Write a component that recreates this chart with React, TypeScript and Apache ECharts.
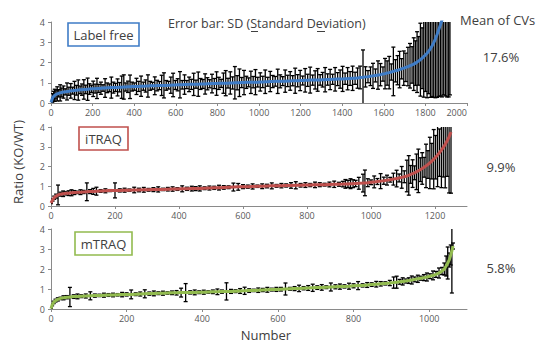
import { useEffect, useRef } from "react";
import * as echarts from "echarts";

// [rank, mean ratio, SD]
const LABEL_FREE: [number, number, number][] = [
  [0, 0.03, 0.05], [4, 0.15, 0.12], [8, 0.26, 0.2], [13, 0.33, 0.25], [18, 0.38, 0.3], [24, 0.42, 0.22],
  [30, 0.45, 0.35], [37, 0.48, 0.18], [44, 0.5, 0.4], [52, 0.52, 0.22], [60, 0.54, 0.3], [68, 0.55, 0.15],
  [77, 0.57, 0.42], [86, 0.58, 0.2], [95, 0.6, 0.36], [104, 0.61, 0.17], [113, 0.62, 0.45], [122, 0.63, 0.24],
  [131, 0.64, 0.5], [140, 0.65, 0.19], [149, 0.66, 0.28], [158, 0.67, 0.48], [167, 0.67, 0.21], [176, 0.68, 0.55],
  [185, 0.69, 0.26], [194, 0.7, 0.18], [203, 0.7, 0.38], [212, 0.71, 0.22], [221, 0.72, 0.5], [230, 0.72, 0.2],
  [240, 0.73, 0.3], [250, 0.74, 0.16], [260, 0.74, 0.46], [270, 0.75, 0.24], [280, 0.75, 0.19], [290, 0.76, 0.52],
  [300, 0.76, 0.27], [310, 0.77, 0.2], [320, 0.77, 0.42], [330, 0.78, 0.23], [340, 0.78, 0.55], [350, 0.79, 0.6],
  [360, 0.79, 0.2], [370, 0.8, 0.28], [380, 0.8, 0.58], [390, 0.81, 0.22], [400, 0.81, 0.18], [411, 0.82, 0.4],
  [422, 0.82, 0.25], [433, 0.83, 0.5], [444, 0.83, 0.2], [455, 0.84, 0.3], [466, 0.84, 0.55], [477, 0.85, 0.22],
  [488, 0.85, 0.17], [499, 0.85, 0.44], [510, 0.86, 0.26], [521, 0.86, 0.2], [532, 0.87, 0.5], [543, 0.87, 0.62],
  [554, 0.87, 0.24], [565, 0.88, 0.19], [576, 0.88, 0.4], [587, 0.89, 0.58], [598, 0.89, 0.22], [609, 0.9, 0.3],
  [620, 0.9, 0.65], [631, 0.9, 0.21], [642, 0.91, 0.48], [653, 0.91, 0.2], [664, 0.92, 0.36], [675, 0.92, 0.25],
  [686, 0.92, 0.55], [697, 0.93, 0.2], [708, 0.93, 0.6], [719, 0.94, 0.27], [730, 0.94, 0.22], [741, 0.94, 0.5],
  [752, 0.95, 0.3], [763, 0.95, 0.2], [774, 0.96, 0.46], [785, 0.96, 0.25], [796, 0.96, 0.58], [807, 0.97, 0.3],
  [818, 0.97, 0.2], [829, 0.98, 0.5], [840, 0.98, 0.62], [851, 0.98, 0.24], [862, 0.99, 0.55], [873, 0.99, 0.3],
  [884, 1.0, 0.8], [895, 1.0, 0.35], [906, 1.0, 0.68], [917, 1.01, 0.25], [928, 1.01, 0.6], [939, 1.02, 0.3],
  [950, 1.02, 0.22], [961, 1.02, 0.55], [972, 1.03, 0.28], [983, 1.03, 0.62], [994, 1.03, 0.24], [1006, 1.04, 0.45],
  [1018, 1.04, 0.28], [1030, 1.05, 0.58], [1042, 1.05, 0.22], [1054, 1.06, 0.5], [1066, 1.06, 0.3], [1078, 1.07, 0.24],
  [1090, 1.07, 0.6], [1102, 1.07, 0.32], [1114, 1.08, 0.22], [1126, 1.08, 0.55], [1138, 1.09, 0.28], [1150, 1.09, 0.46],
  [1162, 1.1, 0.25], [1174, 1.1, 0.62], [1186, 1.1, 0.3], [1198, 1.11, 0.5], [1210, 1.11, 0.22], [1222, 1.12, 0.58],
  [1234, 1.12, 0.3], [1246, 1.13, 0.64], [1258, 1.13, 0.25], [1270, 1.14, 0.45], [1282, 1.14, 0.56], [1294, 1.14, 0.26],
  [1306, 1.15, 0.36], [1318, 1.15, 0.6], [1330, 1.16, 0.28], [1342, 1.16, 0.5], [1354, 1.17, 0.25], [1366, 1.17, 0.58],
  [1378, 1.18, 0.32], [1390, 1.18, 0.45], [1402, 1.19, 0.62], [1414, 1.2, 0.28], [1426, 1.2, 0.55], [1438, 1.21, 0.34],
  [1450, 1.22, 0.6], [1462, 1.22, 0.3], [1474, 1.23, 0.5], [1486, 1.26, 0.56], [1500, 1.27, 1.35], [1512, 1.29, 0.5],
  [1524, 1.3, 0.3], [1536, 1.32, 0.46], [1548, 1.34, 0.62], [1560, 1.36, 0.32], [1572, 1.38, 0.7], [1584, 1.4, 0.55],
  [1596, 1.43, 0.35], [1606, 1.45, 0.75], [1616, 1.48, 0.6], [1626, 1.5, 0.8], [1636, 1.53, 0.4], [1646, 1.56, 1.2],
  [1656, 1.59, 0.55], [1666, 1.62, 0.72], [1676, 1.65, 0.9], [1686, 1.69, 0.5], [1696, 1.72, 0.85], [1706, 1.76, 0.7],
  [1716, 1.8, 0.95], [1726, 1.84, 1.1], [1736, 1.88, 0.9], [1744, 1.92, 1.3], [1752, 1.97, 1.1], [1760, 2.02, 1.5],
  [1768, 2.08, 1.2], [1776, 2.14, 1.8], [1784, 2.21, 1.5], [1792, 2.29, 2.0], [1800, 2.37, 1.8], [1808, 2.46, 2.2],
  [1816, 2.56, 2.1], [1824, 2.68, 2.4], [1832, 2.82, 2.5], [1840, 2.98, 2.7], [1848, 3.16, 2.9], [1856, 3.38, 3.1],
  [1864, 3.62, 3.3], [1872, 3.85, 3.5], [1880, 4.1, 3.8], [1888, 4.4, 4.0], [1896, 4.75, 4.4], [1904, 5.1, 4.8],
  [1912, 5.5, 5.2], [1918, 6.0, 5.6],
];

const ITRAQ: [number, number, number][] = [
  [0, 0.15, 0.03], [5, 0.3, 0.05], [10, 0.42, 0.08], [16, 0.5, 0.1], [22, 0.56, 0.5], [30, 0.6, 0.1],
  [38, 0.62, 0.14], [46, 0.64, 0.08], [55, 0.65, 0.12], [64, 0.67, 0.15], [73, 0.68, 0.1], [82, 0.69, 0.06],
  [92, 0.7, 0.12], [102, 0.71, 0.08], [112, 0.72, 0.45], [122, 0.73, 0.1], [132, 0.74, 0.15], [142, 0.75, 0.2],
  [155, 0.76, 0.07], [170, 0.77, 0.1], [185, 0.78, 0.05], [200, 0.79, 0.38], [215, 0.79, 0.08], [230, 0.8, 0.1],
  [245, 0.8, 0.06], [260, 0.81, 0.14], [275, 0.81, 0.09], [290, 0.82, 0.12], [305, 0.82, 0.07], [320, 0.83, 0.1],
  [335, 0.84, 0.13], [350, 0.84, 0.06], [365, 0.85, 0.09], [380, 0.86, 0.11], [395, 0.86, 0.07], [410, 0.87, 0.15],
  [425, 0.87, 0.08], [440, 0.88, 0.12], [452, 0.88, 0.1], [465, 0.89, 0.13], [480, 0.9, 0.07], [495, 0.91, 0.1],
  [510, 0.92, 0.08], [525, 0.93, 0.12], [540, 0.94, 0.09], [555, 0.95, 0.07], [570, 0.96, 0.2], [585, 0.97, 0.17],
  [600, 0.98, 0.1], [615, 0.98, 0.08], [630, 0.99, 0.13], [645, 1.0, 0.06], [660, 1.0, 0.12], [675, 1.01, 0.09],
  [690, 1.02, 0.15], [705, 1.02, 0.07], [720, 1.03, 0.11], [735, 1.04, 0.08], [750, 1.04, 0.14], [765, 1.05, 0.18],
  [780, 1.05, 0.09], [795, 1.06, 0.12], [810, 1.06, 0.08], [825, 1.07, 0.14], [840, 1.08, 0.1], [855, 1.08, 0.07],
  [870, 1.09, 0.12], [885, 1.1, 0.16], [900, 1.1, 0.1], [912, 1.11, 0.14], [920, 1.12, 0.22], [928, 1.12, 0.18],
  [936, 1.13, 0.25], [944, 1.13, 0.2], [952, 1.14, 0.16], [962, 1.15, 0.3], [975, 1.16, 0.45], [981, 1.17, 0.65],
  [990, 1.18, 0.2], [1000, 1.2, 0.12], [1010, 1.22, 0.3], [1020, 1.24, 0.15], [1030, 1.26, 0.38], [1040, 1.28, 0.18],
  [1050, 1.31, 0.25], [1060, 1.33, 0.12], [1070, 1.36, 0.3], [1080, 1.39, 0.42], [1088, 1.42, 0.2], [1096, 1.45, 0.55],
  [1104, 1.48, 0.3], [1112, 1.52, 0.8], [1118, 1.55, 1.0], [1124, 1.6, 0.45], [1130, 1.64, 0.7], [1136, 1.68, 0.35],
  [1142, 1.73, 0.9], [1148, 1.78, 1.1], [1154, 1.84, 0.6], [1160, 1.9, 0.8], [1166, 1.96, 0.5], [1172, 2.03, 1.1],
  [1178, 2.1, 0.7], [1184, 2.18, 1.3], [1190, 2.27, 0.9], [1196, 2.37, 1.5], [1202, 2.47, 1.1], [1208, 2.58, 1.6],
  [1214, 2.7, 1.2], [1220, 2.83, 1.9], [1226, 2.97, 1.5], [1232, 3.12, 2.2], [1238, 3.3, 1.8], [1244, 3.5, 2.84],
  [1250, 3.75, 3.1],
];

const MTRAQ: [number, number, number][] = [
  [0, 0.02, 0.02], [3, 0.2, 0.04], [7, 0.33, 0.06], [12, 0.42, 0.07], [18, 0.48, 0.08], [25, 0.53, 0.06],
  [33, 0.56, 0.1], [42, 0.59, 0.08], [50, 0.6, 0.48], [60, 0.62, 0.09], [70, 0.63, 0.12], [80, 0.64, 0.07],
  [92, 0.65, 0.1], [104, 0.66, 0.2], [116, 0.67, 0.08], [128, 0.68, 0.06], [140, 0.69, 0.1], [152, 0.7, 0.07],
  [164, 0.7, 0.09], [176, 0.71, 0.06], [188, 0.72, 0.11], [200, 0.73, 0.08], [212, 0.73, 0.22], [224, 0.74, 0.07],
  [236, 0.75, 0.1], [248, 0.76, 0.2], [260, 0.77, 0.08], [272, 0.78, 0.12], [284, 0.79, 0.07], [296, 0.79, 0.1],
  [308, 0.8, 0.06], [320, 0.81, 0.09], [332, 0.81, 0.11], [344, 0.82, 0.22], [356, 0.82, 0.45], [368, 0.83, 0.08],
  [380, 0.83, 0.12], [392, 0.84, 0.07], [404, 0.84, 0.1], [416, 0.85, 0.06], [428, 0.86, 0.09], [440, 0.86, 0.14],
  [452, 0.87, 0.08], [464, 0.88, 0.43], [476, 0.88, 0.1], [488, 0.89, 0.07], [500, 0.9, 0.12], [512, 0.91, 0.18],
  [524, 0.92, 0.09], [536, 0.93, 0.06], [548, 0.94, 0.11], [560, 0.95, 0.08], [572, 0.96, 0.12], [584, 0.97, 0.07],
  [596, 0.98, 0.1], [608, 0.99, 0.09], [620, 1.0, 0.3], [632, 1.01, 0.07], [644, 1.02, 0.1], [656, 1.03, 0.16],
  [668, 1.04, 0.08], [680, 1.05, 0.12], [692, 1.06, 0.18], [704, 1.07, 0.09], [716, 1.08, 0.14], [728, 1.09, 0.07],
  [740, 1.1, 0.2], [752, 1.11, 0.1], [764, 1.12, 0.13], [776, 1.13, 0.08], [788, 1.14, 0.15], [800, 1.16, 0.1],
  [812, 1.17, 0.2], [824, 1.18, 0.08], [836, 1.2, 0.12], [848, 1.22, 0.09], [860, 1.24, 0.14], [872, 1.26, 0.11],
  [884, 1.28, 0.08], [896, 1.3, 0.13], [906, 1.32, 0.28], [914, 1.34, 0.3], [922, 1.36, 0.12], [930, 1.38, 0.18],
  [938, 1.4, 0.1], [946, 1.42, 0.14], [954, 1.45, 0.2], [962, 1.48, 0.12], [970, 1.51, 0.18], [978, 1.54, 0.1],
  [986, 1.57, 0.15], [994, 1.6, 0.2], [1002, 1.64, 0.12], [1010, 1.68, 0.22], [1018, 1.73, 0.15], [1026, 1.8, 0.25],
  [1034, 1.9, 0.18], [1040, 2.0, 0.3], [1045, 2.15, 0.5], [1049, 2.3, 0.8], [1053, 2.45, 0.35], [1057, 2.7, 0.5],
  [1060, 2.9, 2.1], [1063, 3.15, 0.15],
];

const PANEL_NAMES = ["Label free", "iTRAQ", "mTRAQ"];
const PANEL_COLORS = ["#3f7cc6", "#c0504d", "#92bb4f"];
const X_MAX = [2000, 1300, 1100];
const MEAN_CVS = ["17.6%", "9.9%", "5.8%"];
const PANEL_DATA = [LABEL_FREE, ITRAQ, MTRAQ];

const FONT = "'Open Sans', 'Noto Sans', sans-serif";
const AXIS_GREY = "#8a8a8a";
const LABEL_GREY = "#595959";

// layout
const GRIDS = [
  { left: 51, top: 22, width: 416, height: 81 },
  { left: 51, top: 127, width: 416, height: 79 },
  { left: 51, top: 229, width: 416, height: 80 },
];
const BOXES = [
  { x: 68, y: 23, w: 71, h: 23 },
  { x: 79, y: 127, w: 49, h: 23 },
  { x: 75, y: 232, w: 57, h: 23 },
];
const CV_Y = [57, 167, 268];

function errorBarRender(params: any, api: any) {
  const r = api.value(0);
  const m = api.value(1);
  const s = api.value(2);
  const top = api.coord([r, m + s]);
  const bot = api.coord([r, m - s]);
  const x = top[0];
  const st = { stroke: "#000", lineWidth: 1.3 };
  return {
    type: "group",
    children: [
      { type: "line", shape: { x1: x, y1: top[1], x2: x, y2: bot[1] }, style: st },
      { type: "line", shape: { x1: x - 2, y1: top[1], x2: x + 2, y2: top[1] }, style: st },
      { type: "line", shape: { x1: x - 2, y1: bot[1], x2: x + 2, y2: bot[1] }, style: st },
    ],
  };
}

function buildOption() {
  const grid = GRIDS.map((g) => ({ ...g }));
  const xAxis = X_MAX.map((mx, i) => ({
    type: "value",
    gridIndex: i,
    min: 0,
    max: mx,
    interval: 200,
    splitLine: { show: false },
    axisLine: { show: true, onZero: false, lineStyle: { color: AXIS_GREY, width: 1 } },
    axisTick: { show: true, length: 3, lineStyle: { color: AXIS_GREY } },
    axisLabel: {
      fontSize: 9,
      color: LABEL_GREY,
      fontFamily: FONT,
      margin: 5,
      formatter: (v: number) => String(v),
      showMaxLabel: mx % 200 === 0,
      alignMaxLabel: mx % 200 === 0 ? "right" : undefined,
    },
  }));
  const yAxis = X_MAX.map((_, i) => ({
    type: "value",
    gridIndex: i,
    min: 0,
    max: 4,
    interval: 1,
    splitLine: { show: false },
    axisLine: { show: true, lineStyle: { color: AXIS_GREY, width: 1 } },
    axisTick: { show: true, length: 3, lineStyle: { color: AXIS_GREY } },
    axisLabel: { fontSize: 9, color: LABEL_GREY, fontFamily: FONT, margin: 6 },
  }));
  const series: any[] = [];
  PANEL_DATA.forEach((data, i) => {
    series.push({
      type: "custom",
      xAxisIndex: i,
      yAxisIndex: i,
      data,
      encode: { x: 0, y: 1 },
      renderItem: errorBarRender,
      clip: true,
      z: 2,
      silent: true,
    });
    series.push({
      type: "line",
      xAxisIndex: i,
      yAxisIndex: i,
      data: data.map((d) => [d[0], d[1]]),
      showSymbol: false,
      symbol: "none",
      lineStyle: { color: PANEL_COLORS[i], width: 3 },
      clip: true,
      z: 3,
      silent: true,
    });
  });

  const graphic: any[] = [];
  BOXES.forEach((b, i) => {
    graphic.push({
      type: "rect",
      shape: { x: b.x, y: b.y, width: b.w, height: b.h },
      style: { fill: "#fff", stroke: PANEL_COLORS[i], lineWidth: 1.6 },
      z: 10,
    });
    graphic.push({
      type: "text",
      x: b.x + b.w / 2,
      y: b.y + b.h / 2,
      style: {
        text: PANEL_NAMES[i],
        fill: "#404040",
        font: `13px ${FONT}`,
        textAlign: "center",
        textVerticalAlign: "middle",
      },
      z: 11,
    });
  });
  graphic.push({
    type: "text",
    x: 168,
    y: 23,
    style: {
      text: "Error bar: SD (Standard Deviation)",
      fill: "#404040",
      font: `12.5px ${FONT}`,
      textAlign: "left",
      textVerticalAlign: "middle",
    },
    z: 11,
  });
  graphic.push({ type: "line", shape: { x1: 251, y1: 31.5, x2: 258, y2: 31.5 }, style: { stroke: "#404040", lineWidth: 1 }, z: 11 });
  graphic.push({ type: "line", shape: { x1: 317, y1: 31.5, x2: 325, y2: 31.5 }, style: { stroke: "#404040", lineWidth: 1 }, z: 11 });
  graphic.push({
    type: "text",
    x: 460,
    y: 20,
    style: { text: "Mean of CVs", fill: "#404040", font: `13px ${FONT}`, textAlign: "left", textVerticalAlign: "middle" },
    z: 11,
  });
  MEAN_CVS.forEach((t, i) => {
    graphic.push({
      type: "text",
      x: 501,
      y: CV_Y[i],
      style: { text: t, fill: "#404040", font: `13px ${FONT}`, textAlign: "center", textVerticalAlign: "middle" },
      z: 11,
    });
  });
  graphic.push({
    type: "text",
    x: 18,
    y: 162,
    rotation: Math.PI / 2,
    style: { text: "Ratio (KO/WT)", fill: "#404040", font: `13px ${FONT}`, textAlign: "center", textVerticalAlign: "middle" },
    z: 11,
  });
  graphic.push({
    type: "text",
    x: 266,
    y: 335,
    style: { text: "Number", fill: "#404040", font: `13px ${FONT}`, textAlign: "center", textVerticalAlign: "middle" },
    z: 11,
  });

  return {
    animation: false,
    backgroundColor: "#fff",
    grid,
    xAxis,
    yAxis,
    series,
    graphic,
  };
}

export default function App() {
  const ref = useRef<HTMLDivElement>(null);
  useEffect(() => {
    if (!ref.current) return;
    const chart = echarts.init(ref.current, null, { renderer: "svg" });
    chart.setOption(buildOption() as any);
    return () => chart.dispose();
  }, []);
  return (
    <div
      ref={ref}
      style={{ position: "absolute", left: 0, top: 0, width: 536, height: 343, background: "#fff" }}
    />
  );
}
